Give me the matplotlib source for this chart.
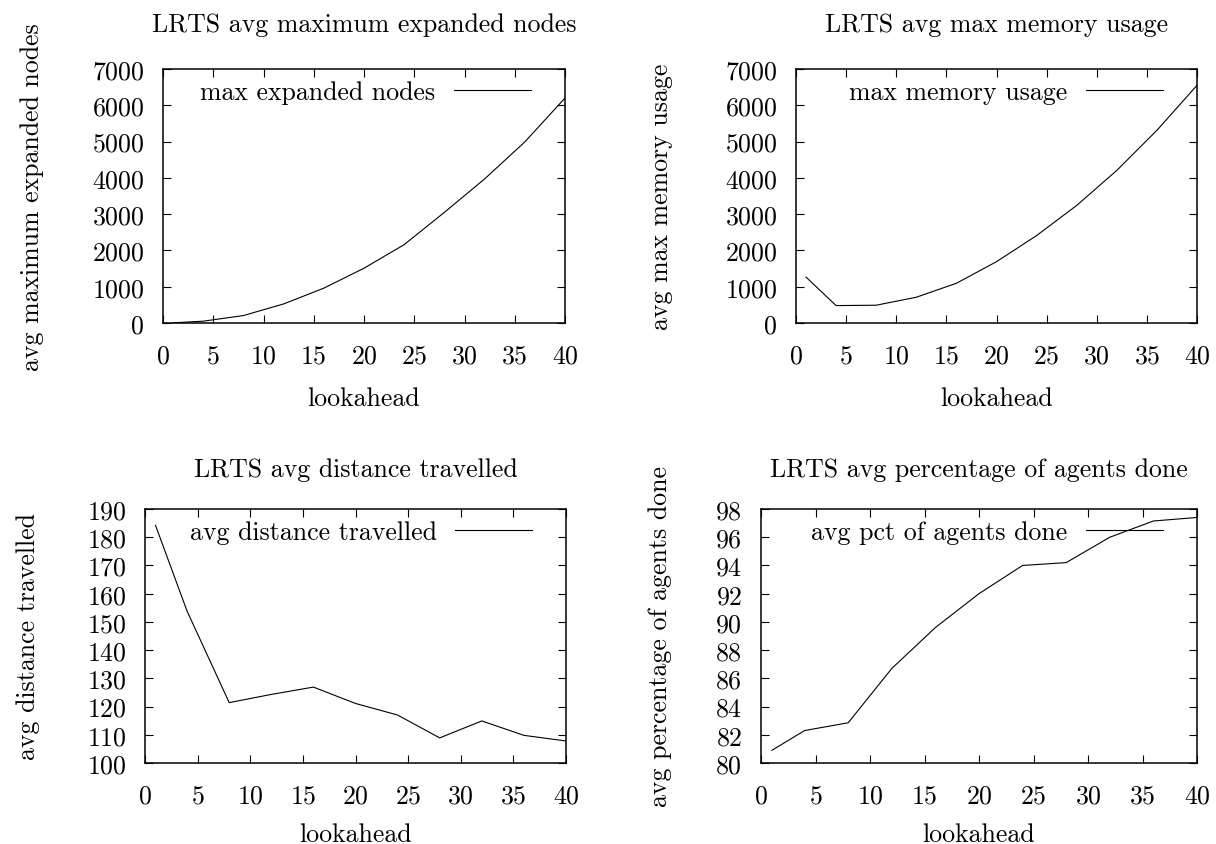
#!/usr/bin/env python3
"""
LRTS lookahead experiments: four gnuplot-style panels.
"""

import matplotlib
matplotlib.use('Agg')
import matplotlib.pyplot as plt

# Data
lookahead = [1, 4, 8, 12, 16, 20, 24, 28, 32, 36, 40]
max_expanded = [5, 50, 205, 525, 960, 1510, 2160, 3050, 3970, 4990, 6200]
max_memory = [1265, 480, 490, 710, 1095, 1690, 2410, 3240, 4205, 5310, 6550]
avg_distance = [184.2, 153.8, 121.4, 124.3, 126.9, 121.1, 117.0, 108.9, 114.9, 109.8, 107.8]
pct_done = [80.9, 82.3, 82.85, 86.7, 89.6, 92.0, 94.0, 94.2, 96.0, 97.15, 97.4]

titles = [
    'LRTS avg maximum expanded nodes',
    'LRTS avg max memory usage',
    'LRTS avg distance travelled',
    'LRTS avg percentage of agents done',
]
ylabels = [
    'avg maximum expanded nodes',
    'avg max memory usage',
    'avg distance travelled',
    'avg percentage of agents done',
]
legend_labels = [
    'max expanded nodes',
    'max memory usage',
    'avg distance travelled',
    'avg pct of agents done',
]
series = [max_expanded, max_memory, avg_distance, pct_done]
yticks = [
    list(range(0, 7001, 1000)),
    list(range(0, 7001, 1000)),
    list(range(100, 191, 10)),
    list(range(80, 99, 2)),
]
xticks = list(range(0, 41, 5))

W, H = 1216, 845
# frame boxes in pixels: left, right, top, bottom
frames = [
    (163, 565, 70, 324),
    (796, 1197, 70, 324),
    (145, 566, 510, 764),
    (761, 1197, 510, 764),
]
# y label centre x position in pixels
ylabel_x = [32, 661, 28, 660]
# title offset above frame / xlabel offset below frame, pixels
title_off = [37, 37, 32, 32]
xlabel_off = [75, 75, 71, 71]

plt.rcParams['font.family'] = 'cmr10'
plt.rcParams['axes.formatter.use_mathtext'] = True
plt.rcParams['font.size'] = 18.6
plt.rcParams['axes.titlesize'] = 18.6

fig = plt.figure(figsize=(W / 100, H / 100), dpi=100)

for i in range(4):
    left, right, top, bottom = frames[i]
    w = right - left
    h = bottom - top
    ax = fig.add_axes([left / W, 1 - bottom / H, w / W, h / H])

    ax.plot(lookahead, series[i], color='black', linewidth=0.8,
            label=legend_labels[i])

    ax.set_xlim(0, 40)
    ax.set_ylim(yticks[i][0], yticks[i][-1])
    ax.set_xticks(xticks)
    ax.set_yticks(yticks[i])

    for sp in ax.spines.values():
        sp.set_linewidth(1.1)
    ax.tick_params(direction='in', length=5.8, width=0.8,
                   top=True, right=True)
    ax.tick_params(axis='x', pad=15)
    ax.tick_params(axis='y', pad=13.5)

    ax.set_title(titles[i], y=1 + title_off[i] / h, va='center')
    ax.set_xlabel('lookahead', va='center')
    ax.xaxis.set_label_coords(0.5, -xlabel_off[i] / h)
    ax.set_ylabel(ylabels[i], va='center')
    ax.yaxis.set_label_coords((ylabel_x[i] - left) / w, 0.5)

    # legend: line sample on the right, ending ~34px inside the frame
    ax.legend(loc='center right', frameon=False, markerfirst=False,
              handlelength=3.0, handletextpad=0.7, borderpad=0,
              borderaxespad=0,
              bbox_to_anchor=(1 - 34 / w, 1 - 23 / h))

plt.savefig('out.png', dpi=100)
plt.close()
